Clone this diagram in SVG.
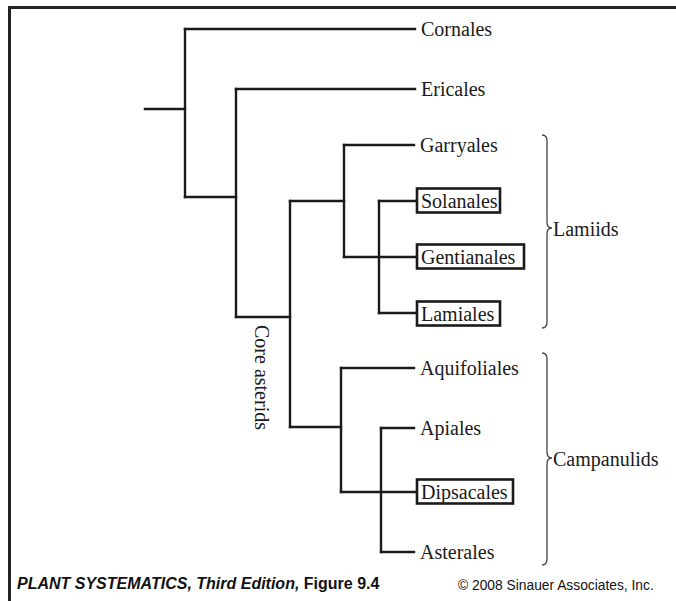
<svg xmlns="http://www.w3.org/2000/svg" width="676" height="601" viewBox="0 0 676 601">
  <style>
    .frame { fill: none; stroke: #222; stroke-width: 3; }
    .edge { fill: none; stroke: #1a1a1a; stroke-width: 2.4; stroke-linecap: square; }
    .brace { fill: none; stroke: #444; stroke-width: 1.3; }
    .box { fill: #fff; stroke: #1a1a1a; stroke-width: 2.6; }
    .lbl { font-family: "Liberation Serif", "Times New Roman", serif; font-size: 20px; fill: #1a1a1a; }
    .foot { font-family: "Liberation Sans", Arial, sans-serif; fill: #111; }
  </style>
  <rect width="676" height="601" fill="#fff"/>
  <!-- frame: top and left edges only -->
  <path class="frame" d="M9.5 601 V7.5 H676"/>

  <!-- tree branches -->
  <g id="connectors">
    <path class="edge" d="M145 109 H185"/>
    <path class="edge" d="M185 29 V197"/>
    <path class="edge" d="M185 29 H415"/>
    <path class="edge" d="M185 197 H236"/>
    <path class="edge" d="M236 89 V317"/>
    <path class="edge" d="M236 89 H415"/>
    <path class="edge" d="M236 317 H290"/>
    <path class="edge" d="M290 201 V427"/>
    <path class="edge" d="M290 201 H344"/>
    <path class="edge" d="M344 145 V257"/>
    <path class="edge" d="M344 145 H414"/>
    <path class="edge" d="M344 257 H417"/>
    <path class="edge" d="M379 201 V313"/>
    <path class="edge" d="M379 201 H417"/>
    <path class="edge" d="M379 313 H417"/>
    <path class="edge" d="M290 427 H341"/>
    <path class="edge" d="M341 368 V492"/>
    <path class="edge" d="M341 368 H414"/>
    <path class="edge" d="M341 492 H417"/>
    <path class="edge" d="M381 428 V552"/>
    <path class="edge" d="M381 428 H414"/>
    <path class="edge" d="M381 552 H414"/>
  </g>

  <g id="cornales"><text class="lbl" x="421" y="36">Cornales</text></g>
  <g id="ericales"><text class="lbl" x="421" y="96">Ericales</text></g>
  <g id="garryales"><text class="lbl" x="420" y="152">Garryales</text></g>
  <g id="solanales">
    <rect class="box" x="417" y="188.5" width="83" height="24"/>
    <text class="lbl" x="421" y="207.5">Solanales</text>
  </g>
  <g id="gentianales">
    <rect class="box" x="417" y="244.5" width="107" height="24"/>
    <text class="lbl" x="421" y="263.5">Gentianales</text>
  </g>
  <g id="lamiales">
    <rect class="box" x="417" y="301.5" width="83" height="24"/>
    <text class="lbl" x="421" y="320.5">Lamiales</text>
  </g>
  <g id="aquifoliales"><text class="lbl" x="420" y="375">Aquifoliales</text></g>
  <g id="apiales"><text class="lbl" x="420" y="435">Apiales</text></g>
  <g id="dipsacales">
    <rect class="box" x="417" y="479.5" width="96" height="24"/>
    <text class="lbl" x="421" y="498.5">Dipsacales</text>
  </g>
  <g id="asterales"><text class="lbl" x="420" y="559">Asterales</text></g>

  <!-- clade label on the core asterid stem -->
  <g id="core-asterids">
    <text class="lbl" transform="translate(255 325) rotate(90)">Core asterids</text>
  </g>

  <!-- clade brackets -->
  <g id="lamiids">
    <path class="brace" d="M542 135 Q547 135 547 141 V222 Q547 228 552 228 Q547 228 547 234 V322 Q547 328 542 328"/>
    <text class="lbl" x="553" y="236">Lamiids</text>
  </g>
  <g id="campanulids">
    <path class="brace" d="M542 353 Q547 353 547 359 V452 Q547 458 552 458 Q547 458 547 464 V559 Q547 565 542 565"/>
    <text class="lbl" x="553" y="466">Campanulids</text>
  </g>

  <!-- caption -->
  <g id="caption">
    <text class="foot" x="17" y="589" font-size="16"><tspan font-weight="bold" font-style="italic">PLANT SYSTEMATICS, Third Edition,</tspan><tspan font-weight="bold"> Figure 9.4</tspan></text>
    <text class="foot" x="458" y="590" font-size="13.8" fill="#333">© 2008 Sinauer Associates, Inc.</text>
  </g>
</svg>
